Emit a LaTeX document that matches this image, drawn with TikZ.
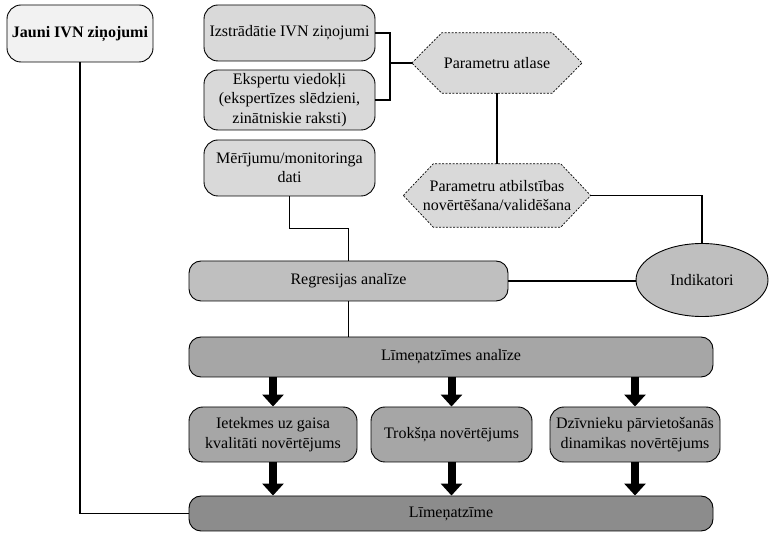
\documentclass[tikz,border=0pt]{standalone}
\usepackage{fontspec}
\setmainfont{Liberation Serif}
\usetikzlibrary{shapes.geometric,arrows.meta,backgrounds}
\definecolor{g1}{HTML}{F2F2F2}
\definecolor{g2}{HTML}{D9D9D9}
\definecolor{g3}{HTML}{BFBFBF}
\definecolor{g4}{HTML}{A6A6A6}
\definecolor{g5}{HTML}{8C8C8C}
\begin{document}
\begin{tikzpicture}[x=1pt,y=-1pt,
  every node/.style={font=\fontsize{16}{19.5}\selectfont},
  rbox/.style={draw=black,line width=0.9pt,rounded corners=14pt,align=center,inner sep=0pt},
  hexnode/.style={align=center,inner sep=0pt},
  hexpath/.style={fill=g2,draw=black,line width=0.7pt,dash pattern=on 2pt off 1.5pt},
  conn/.style={draw=black,line width=1.3pt},
  bigarrow/.style={line width=8pt,-{Triangle[width=21pt,length=12pt]}}
]
\useasboundingbox (0,0) rectangle (769,534);
\begin{scope}[on background layer]
\fill[white] (0,0) rectangle (769,534);
\end{scope}

% left
\node[rbox,fill=g1,minimum width=146pt,minimum height=57pt,font=\fontsize{16}{19.5}\selectfont\bfseries] (jauni) at (80,33.5) {Jauni IVN ziņojumi};

% top column
\node[rbox,fill=g2,minimum width=171pt,minimum height=56pt] (izstr) at (289.5,33) {Izstrādātie IVN ziņojumi};
\node[rbox,fill=g2,minimum width=171pt,minimum height=60pt] (eksp) at (289.5,100) {Ekspertu viedokļi\\(ekspertīzes slēdzieni,\\zinātniskie raksti)};
\node[rbox,fill=g2,minimum width=171pt,minimum height=56pt] (meri) at (289.5,168) {Mērījumu/monitoringa\\dati};

% hexagons
\node[hexnode,minimum width=170pt,minimum height=60pt] (hex1) at (497,63) {Parametru atlase};
\node[hexnode,minimum width=187pt,minimum height=63pt] (hex2) at (497,195.5) {Parametru atbilstības\\novērtēšana/validēšana};
\begin{scope}[on background layer]
\path[hexpath] (hex1.west) -- ([xshift=30pt]hex1.north west) -- ([xshift=-30pt]hex1.north east) -- (hex1.east) -- ([xshift=-30pt]hex1.south east) -- ([xshift=30pt]hex1.south west) -- cycle;
\path[hexpath] (hex2.west) -- ([xshift=30pt]hex2.north west) -- ([xshift=-30pt]hex2.north east) -- (hex2.east) -- ([xshift=-30pt]hex2.south east) -- ([xshift=30pt]hex2.south west) -- cycle;
\end{scope}

% ellipse
\node[ellipse,draw=black,line width=0.9pt,fill=g3,minimum width=132pt,minimum height=73pt,inner sep=0pt] (ind) at (702,280) {Indikatori};

% analysis
\node[rbox,fill=g3,rounded corners=12pt,minimum width=319pt,minimum height=40pt] (regr) at (348.5,281) {Regresijas analīze};
\node[rbox,fill=g4,rounded corners=12pt,minimum width=524pt,minimum height=40pt] (lanal) at (451,357) {Līmeņatzīmes analīze};

\node[rbox,fill=g4,minimum width=168pt,minimum height=55pt] (b1) at (273,434.5) {Ietekmes uz gaisa\\kvalitāti novērtējums};
\node[rbox,fill=g4,minimum width=161pt,minimum height=55pt] (b2) at (451.5,434.5) {Trokšņa novērtējums};
\node[rbox,fill=g4,minimum width=170pt,minimum height=55pt] (b3) at (635,434.5) {Dzīvnieku pārvietošanās\\dinamikas novērtējums};

\node[rbox,fill=g5,rounded corners=12pt,minimum width=524pt,minimum height=35pt] (lim) at (451,513.5) {Līmeņatzīme};

% connectors
\coordinate (brk) at (390,63);
\draw[conn] (izstr.east) -| (brk) |- (eksp.east);
\draw[conn] (hex1.west) -- (brk);
\draw[conn] (hex1.south) -- (hex2.north);
\draw[conn] (hex2.east) -| (ind.north);
\draw[conn] (meri.south) -- ++(0,32) -| (regr.north);
\draw[conn] (regr.east) -- (regr.east -| ind.west);
\draw[conn] (regr.south) -- (regr.south |- lanal.north);
\draw[conn] (jauni.south) |- (lim.west);

\draw[bigarrow] (lanal.south -| b1.north) -- (b1.north);
\draw[bigarrow] (lanal.south -| b2.north) -- (b2.north);
\draw[bigarrow] (lanal.south -| b3.north) -- (b3.north);
\draw[bigarrow] (b1.south) -- (lim.north -| b1.south);
\draw[bigarrow] (b2.south) -- (lim.north -| b2.south);
\draw[bigarrow] (b3.south) -- (lim.north -| b3.south);
\end{tikzpicture}
\end{document}
